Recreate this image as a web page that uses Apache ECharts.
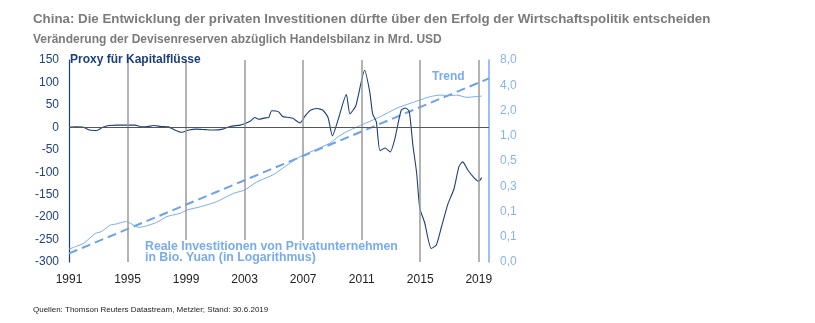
<!DOCTYPE html>
<html>
<head>
<meta charset="utf-8">
<script src="https://cdn.jsdelivr.net/npm/echarts@6/dist/echarts.min.js"></script>
<style>
  html, body { margin: 0; padding: 0; background: #fff; }
  #chart { width: 815px; height: 323px; }
</style>
</head>
<body>
<div id="chart"></div>
<script>
// Proxy für Kapitalflüsse (Mrd. USD), Jahr als Dezimalzahl
const proxyYears = [1991.0, 1991.5, 1992.0, 1992.4, 1992.9, 1993.3, 1993.7, 1994.3, 1995.0, 1995.5,
  1996.0, 1996.4, 1996.8, 1997.3, 1997.8, 1998.3, 1998.7, 1999.2, 1999.7, 2000.3,
  2000.9, 2001.5, 2002.0, 2002.7, 2003.0, 2003.4, 2003.7, 2003.95, 2004.4, 2004.65,
  2004.85, 2005.3, 2005.6, 2006.0, 2006.3, 2006.6, 2006.8, 2007.1, 2007.5, 2007.95,
  2008.35, 2008.7, 2009.0, 2009.4, 2009.95, 2010.2, 2010.6, 2011.2, 2011.55, 2011.75,
  2012.0, 2012.25, 2012.6, 2012.95, 2013.25, 2013.7, 2014.0, 2014.25, 2014.5, 2014.75,
  2014.97, 2015.3, 2015.75, 2016.1, 2016.45, 2016.9, 2017.3, 2017.65, 2017.9, 2018.25,
  2018.7, 2019.0, 2019.2];
const proxyValues = [0, 1, 0, -6, -7, 0, 4, 5, 5, 5,
  1, 2, 4, 2, 1, -7, -11, -6, -4, -5,
  -6, -4, 2, 5, 8, 14, 22, 18, 21, 22,
  37, 35, 24, 22, 20, 13, 10, 24, 38, 42,
  38, 22, -19, 18, 73, 30, 48, 127, 79, 30,
  12, -52, -46, -55, -28, 38, 43, 35, -40, -100,
  -180, -212, -270, -262, -222, -170, -138, -87, -77, -95,
  -113, -120, -112];

// Reale Investitionen von Privatunternehmen, log2 des Werts in Bio. Yuan
const investYears = [1991.0, 1991.5, 1992.0, 1992.8, 1993.2, 1993.85, 1994.2, 1994.86, 1995.2, 1995.77,
  1996.3, 1997.0, 1997.7, 1998.6, 1999.07, 2000.0, 2001.1, 2002.25, 2003.0, 2003.8,
  2005.0, 2005.9, 2006.8, 2007.7, 2008.8, 2009.4, 2009.9, 2011.0, 2012.25, 2013.4,
  2014.5, 2015.7, 2016.35, 2017.0, 2017.5, 2018.2, 2018.8, 2019.2];
const investLog = [-4.49, -4.38, -4.26, -3.87, -3.8, -3.53, -3.5, -3.4, -3.47, -3.63,
  -3.57, -3.43, -3.2, -3.07, -2.94, -2.81, -2.61, -2.28, -2.15, -1.84,
  -1.53, -1.16, -0.83, -0.59, -0.3, -0.04, 0.14, 0.43, 0.75, 1.09,
  1.32, 1.55, 1.61, 1.59, 1.61, 1.52, 1.55, 1.57];

// Trend (log2)
const trendYears = [1991, 2019.7];
const trendLog = [-4.66, 2.27];

// Achsen
const yearStart = 1991;
const yearEnd = 2019.7;
const labelYears = [1991, 1995, 1999, 2003, 2007, 2011, 2015, 2019];
const gridYears = [1995, 1999, 2003, 2007, 2011, 2015, 2019];

const NAVY = '#1c3f7c';
const LIGHT = '#78acf2';
const FONT = '"Liberation Sans", Arial, sans-serif';

const zip = (xs, ys) => xs.map((x, i) => [x, ys[i]]);

const chart = echarts.init(document.getElementById('chart'), null, { renderer: 'canvas' });

chart.setOption({
  animation: false,
  backgroundColor: '#fff',
  textStyle: { fontFamily: FONT },
  title: [
    {
      text: 'China: Die Entwicklung der privaten Investitionen dürfte über den Erfolg der Wirtschaftspolitik entscheiden',
      left: 28, top: 8,
      textStyle: { fontFamily: FONT, fontSize: 13.3, fontWeight: 'bold', color: '#7b7b7b' }
    },
    {
      text: 'Veränderung der Devisenreserven abzüglich Handelsbilanz in Mrd. USD',
      left: 28, top: 29,
      textStyle: { fontFamily: FONT, fontSize: 12, fontWeight: 'bold', color: '#7b7b7b' }
    },
    {
      text: 'Quellen: Thomson Reuters Datastream, Metzler; Stand: 30.6.2019',
      left: 28, top: 301,
      textStyle: { fontFamily: FONT, fontSize: 8, fontWeight: 'normal', color: '#222' }
    }
  ],
  grid: { left: 69, right: 326, top: 60, bottom: 61, containLabel: false },
  xAxis: {
    type: 'value',
    min: yearStart,
    max: yearEnd,
    interval: 1,
    axisLine: { show: false },
    axisTick: { show: false },
    splitLine: { show: false },
    axisLabel: {
      margin: 12,
      color: '#222',
      fontSize: 12,
      fontFamily: FONT,
      formatter: v => labelYears.includes(v) ? String(v) : ''
    }
  },
  yAxis: [
    {
      type: 'value',
      min: -300, max: 150, interval: 50,
      axisLine: { show: true, lineStyle: { color: NAVY, width: 1.2 } },
      axisTick: { show: false },
      splitLine: { show: false },
      axisLabel: { margin: 10, color: '#23437a', fontSize: 12, fontFamily: FONT }
    },
    {
      type: 'value',
      position: 'right',
      min: -5, max: 3, interval: 1,
      axisLine: { show: true, lineStyle: { color: LIGHT, width: 1.5 } },
      axisTick: { show: false },
      splitLine: { show: false },
      axisLabel: {
        margin: 11, color: '#86b4f0', fontSize: 12, fontFamily: FONT,
        formatter: v => Math.pow(2, v).toFixed(1).replace('.', ',')
      }
    }
  ],
  series: [
    {
      name: 'Raster',
      type: 'line',
      yAxisIndex: 0,
      data: [[yearStart, 0]],
      showSymbol: false,
      lineStyle: { width: 0 },
      silent: true,
      markLine: {
        silent: true,
        symbol: 'none',
        label: { show: false },
        data: [
          ...gridYears.map(y => ({ xAxis: y, lineStyle: { color: '#9a9a9a', width: 1.5, type: 'solid' } })),
          { yAxis: 0, lineStyle: { color: '#555', width: 1, type: 'solid' } }
        ]
      }
    },
    {
      name: 'Trend',
      type: 'line',
      yAxisIndex: 1,
      data: zip(trendYears, trendLog),
      showSymbol: false,
      lineStyle: { color: '#6aa2ee', width: 2, type: [9, 5] }
    },
    {
      name: 'Reale Investitionen von Privatunternehmen',
      type: 'line',
      yAxisIndex: 1,
      data: zip(investYears, investLog),
      showSymbol: false,
      smooth: 0.2,
      lineStyle: { color: LIGHT, width: 1 }
    },
    {
      name: 'Proxy für Kapitalflüsse',
      type: 'line',
      yAxisIndex: 0,
      data: zip(proxyYears, proxyValues),
      showSymbol: false,
      smooth: 0.2,
      lineStyle: { color: NAVY, width: 1.1 }
    }
  ],
  graphic: [
    {
      type: 'text', z: 100, left: 70, top: 54,
      style: { text: 'Proxy für Kapitalflüsse', fill: NAVY, font: 'bold 12px ' + FONT }
    },
    {
      type: 'text', z: 100, left: 432, top: 71,
      style: { text: 'Trend', fill: LIGHT, font: 'bold 12px ' + FONT }
    },
    {
      type: 'text', z: 100, left: 143, top: 240,
      style: {
        text: 'Reale Investitionen von Privatunternehmen\nin Bio. Yuan (in Logarithmus)',
        fill: LIGHT, font: 'bold 12.3px ' + FONT, lineHeight: 11,
        backgroundColor: '#fff', padding: [1, 2, 0, 2]
      }
    }
  ]
});
</script>
</body>
</html>
